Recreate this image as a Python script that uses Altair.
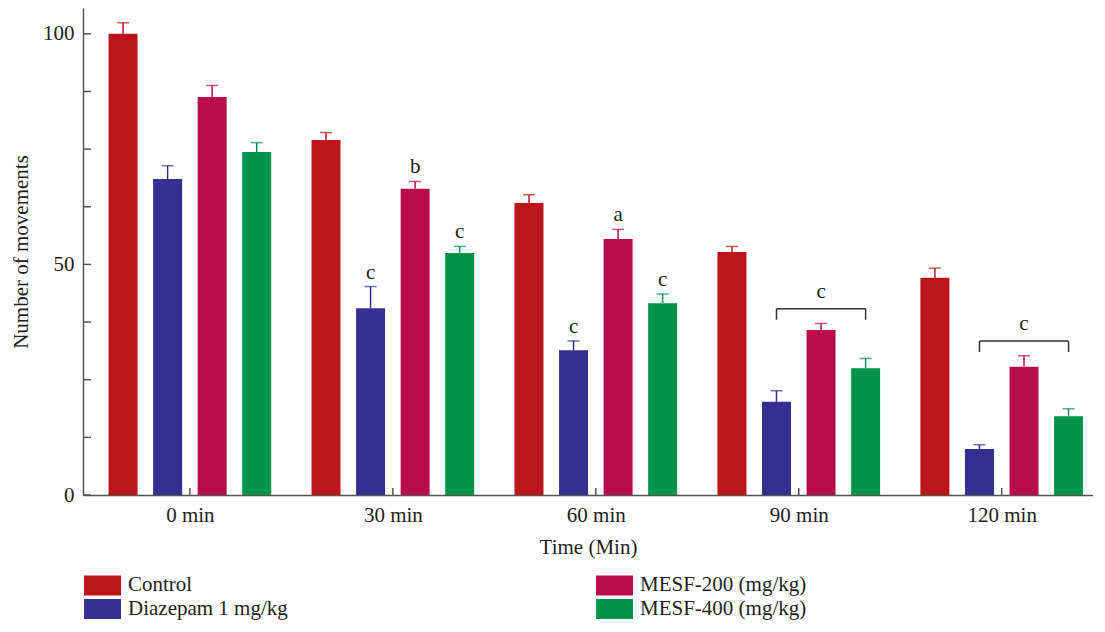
import json
import altair as alt
import pandas as pd

groups = ["0 min", "30 min", "60 min", "90 min", "120 min"]
treatments = ["Control", "Diazepam 1 mg/kg", "MESF-200 (mg/kg)", "MESF-400 (mg/kg)"]
colors = ["#BA161C", "#353090", "#B70D4B", "#00944A"]

control = [100.0, 77.0, 63.3, 52.7, 47.1]
control_se = [2.4, 1.6, 1.8, 1.2, 2.1]
diazepam = [68.5, 40.5, 31.4, 20.2, 10.0]
diazepam_se = [2.9, 4.7, 2.0, 2.4, 0.9]
mesf200 = [86.3, 66.4, 55.5, 35.8, 27.8]
mesf200_se = [2.5, 1.6, 2.1, 1.4, 2.4]
mesf400 = [74.4, 52.5, 41.6, 27.5, 17.1]
mesf400_se = [2.0, 1.4, 2.0, 2.1, 1.6]

sig_groups = ["30 min", "30 min", "30 min", "60 min", "60 min", "60 min"]
sig_treat = ["Diazepam 1 mg/kg", "MESF-200 (mg/kg)", "MESF-400 (mg/kg)",
             "Diazepam 1 mg/kg", "MESF-200 (mg/kg)", "MESF-400 (mg/kg)"]
sig_letters = ["c", "b", "c", "c", "a", "c"]

bracket_groups = ["90 min", "120 min"]
bracket_top = [40.4, 33.4]
bracket_end = [38.0, 31.0]
bracket_letter = ["c", "c"]

y_ticks = [0, 12.5, 25, 37.5, 50, 62.5, 75, 87.5, 100]

FONT = "Liberation Serif"
FS = 21
TXT = "#231f20"
AX = "#555555"
SLOT = 45 / 205  # bar step inside a group, in group units

means = [control, diazepam, mesf200, mesf400]
ses = [control_se, diazepam_se, mesf200_se, mesf400_se]
rows = []
for gi, g in enumerate(groups):
    for ti, t in enumerate(treatments):
        m = means[ti][gi]
        s = ses[ti][gi]
        rows.append({"group": g, "gi": gi, "treatment": t,
                     "pos": gi + (ti - 1.5) * SLOT, "value": m, "top": m + s})
df = pd.DataFrame(rows)

lookup = {(r["group"], r["treatment"]): r for r in rows}
sig_df = pd.DataFrame([
    {"pos": lookup[(g, t)]["pos"], "top": lookup[(g, t)]["top"], "letter": l}
    for g, t, l in zip(sig_groups, sig_treat, sig_letters)
])

br_rows = []
br_v = []
for g, top, end, l in zip(bracket_groups, bracket_top, bracket_end, bracket_letter):
    x1 = lookup[(g, treatments[1])]["pos"]
    x2 = lookup[(g, treatments[3])]["pos"]
    br_rows.append({"x1": x1, "x2": x2, "mid": (x1 + x2) / 2, "top": top, "end": end, "letter": l})
    br_v.append({"x": x1, "top": top, "end": end})
    br_v.append({"x": x2, "top": top, "end": end})
br_df = pd.DataFrame(br_rows)
brv_df = pd.DataFrame(br_v)

W, H = 1010, 487
xscale = alt.Scale(domain=[-0.502, 4.425], nice=False, zero=False)
yscale = alt.Scale(domain=[0, 105.6], nice=False, zero=True)
cscale = alt.Scale(domain=treatments, range=colors)

label_expr = json.dumps(groups) + "[datum.value]"

base = alt.Chart(df)

bars = base.mark_bar(size=29).encode(
    x=alt.X("pos:Q", scale=xscale,
            axis=alt.Axis(values=list(range(len(groups))), labelExpr=label_expr,
                          title="Time (Min)", ticks=False, grid=False,
                          domainColor=AX, domainWidth=1.5, labelFont=FONT,
                          labelFontSize=FS, labelColor=TXT, labelPadding=9,
                          titleFont=FONT, titleFontSize=FS, titleFontWeight="normal",
                          titleColor=TXT, titlePadding=11)),
    y=alt.Y("value:Q", scale=yscale,
            axis=alt.Axis(values=[0, 50, 100], title="Number of movements",
                          ticks=False, grid=False, domainColor=AX, domainWidth=1.5,
                          labelFont=FONT, labelFontSize=FS, labelColor=TXT,
                          labelPadding=9, titleFont=FONT, titleFontSize=FS,
                          titleFontWeight="normal", titleColor=TXT, titlePadding=11)),
    color=alt.Color("treatment:N", scale=cscale,
                    legend=alt.Legend(title=None, orient="none", legendX=8.5, legendY=566,
                                      columns=2, columnPadding=307, rowPadding=2,
                                      symbolType="M-1.68,-0.91 H1.68 V0.91 H-1.68 Z",
                                      symbolSize=484, symbolStrokeWidth=0,
                                      symbolOpacity=1, labelFont=FONT, labelFontSize=FS,
                                      labelColor=TXT, labelOffset=14.5, labelLimit=400)),
)

err = base.mark_rule(strokeWidth=1.5).encode(
    x="pos:Q", y="value:Q", y2="top:Q",
    color=alt.Color("treatment:N", scale=cscale, legend=None))

caps = base.mark_tick(orient="horizontal", size=12, thickness=1.5).encode(
    x="pos:Q", y="top:Q",
    color=alt.Color("treatment:N", scale=cscale, legend=None))

letters = alt.Chart(sig_df).mark_text(dy=-8, baseline="alphabetic", font=FONT,
                                      fontSize=FS, color=TXT).encode(
    x="pos:Q", y="top:Q", text="letter:N")

br_h = alt.Chart(br_df).mark_rule(strokeWidth=1.5, color="#333333").encode(
    x="x1:Q", x2="x2:Q", y="top:Q")
br_vr = alt.Chart(brv_df).mark_rule(strokeWidth=1.5, color="#333333").encode(
    x="x:Q", y="top:Q", y2="end:Q")
br_txt = alt.Chart(br_df).mark_text(dy=-11, baseline="alphabetic", font=FONT,
                                    fontSize=FS, color=TXT).encode(
    x="mid:Q", y="top:Q", text="letter:N")

ytick_df = pd.DataFrame({"v": y_ticks})
yticks = alt.Chart(ytick_df).mark_rule(color=AX, strokeWidth=1.5).encode(
    y="v:Q", x=alt.value(0), x2=alt.value(8))

xtick_df = pd.DataFrame({"gi": list(range(len(groups)))})
xticks = alt.Chart(xtick_df).mark_rule(color=AX, strokeWidth=1.5).encode(
    x="gi:Q", y=alt.value(H - 7), y2=alt.value(H))

chart = alt.layer(bars, err, caps, letters, br_h, br_vr, br_txt, yticks, xticks).properties(
    width=W, height=H,
    autosize=alt.AutoSizeParams(type="none"),
    padding={"left": 75, "top": 0, "right": 0, "bottom": 125},
).configure_view(stroke=None)

chart.save("out.html", embed_options={"renderer": "svg", "actions": False})
